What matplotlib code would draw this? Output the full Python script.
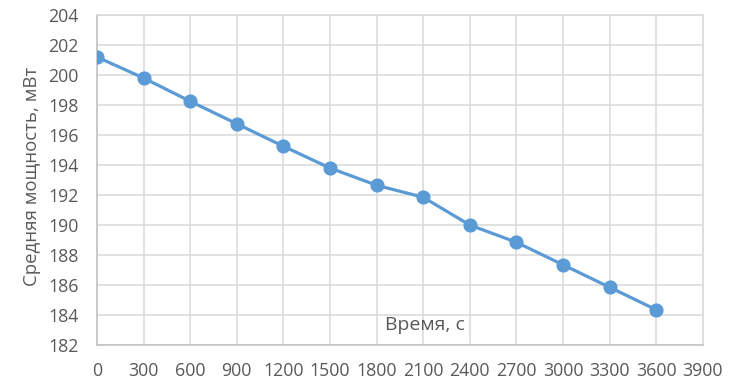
import matplotlib
matplotlib.use("Agg")
import matplotlib.pyplot as plt

time_s = [0, 300, 600, 900, 1200, 1500, 1800, 2100, 2400, 2700, 3000, 3300, 3600]
power_mw = [201.2, 199.8, 198.25, 196.75, 195.25, 193.8, 192.65, 191.85, 190.0, 188.85, 187.35, 185.85, 184.35]
x_ticks = list(range(0, 3901, 300))
y_ticks = list(range(182, 205, 2))

plt.rcParams['font.family'] = ['Open Sans', 'DejaVu Sans']
fig = plt.figure(figsize=(7.29, 3.9), dpi=100)
ax = fig.add_axes([0.133, 0.1154, 0.831, 0.8461])

ax.plot(time_s, power_mw, color='#5b9bd5', linewidth=2.3, marker='o',
        markersize=9.2, markerfacecolor='#5b9bd5', markeredgecolor='#5b9bd5', zorder=3)

ax.set_xlim(0, 3900)
ax.set_ylim(182, 204)
ax.set_xticks(x_ticks)
ax.set_yticks(y_ticks)
ax.tick_params(axis='both', length=0, labelsize=12.8, labelcolor='#595959')
ax.tick_params(axis='x', pad=12)
ax.tick_params(axis='y', pad=13)
ax.grid(True, color='#d9d9d9', linewidth=1.1)
ax.set_axisbelow(True)
for s in ['top', 'right']:
    ax.spines[s].set_color('#d9d9d9')
    ax.spines[s].set_linewidth(1.1)
for s in ['left', 'bottom']:
    ax.spines[s].set_color('#bfbfbf')
    ax.spines[s].set_linewidth(1.1)

ax.set_ylabel('Средняя мощность, мВт', fontsize=13.4, color='#595959')
ax.yaxis.set_label_coords(-0.093, 0.51)
fig.text(425 / 729, 1 - 325 / 390, 'Время, с', fontsize=14, color='#595959',
         ha='center', va='center')

fig.savefig('out.png', dpi=100)
